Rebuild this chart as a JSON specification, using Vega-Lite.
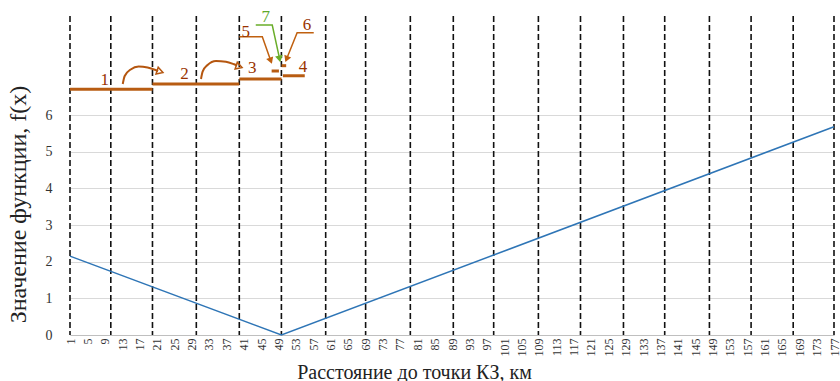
{
  "$schema": "https://vega.github.io/schema/vega-lite/v6.json",
  "width": 764,
  "height": 319,
  "autosize": {"type": "none"},
  "padding": {"left": 70, "top": 16, "right": 6, "bottom": 46},
  "background": "white",
  "config": {
    "view": {"stroke": null},
    "font": "Liberation Serif, DejaVu Serif, serif",
    "axis": {"labelFont": "Liberation Serif, DejaVu Serif, serif", "titleFont": "Liberation Serif, DejaVu Serif, serif"},
    "text": {"font": "Liberation Serif, DejaVu Serif, serif"}
  },
  "datasets": {
    "fx": [
      {"x": 1, "y": 2.15},
      {"x": 49.7, "y": 0},
      {"x": 177, "y": 5.68}
    ],
    "dashes": [
      {"x": 1}, {"x": 10.4}, {"x": 20}, {"x": 30.1}, {"x": 40}, {"x": 49.7}, {"x": 59.9}, {"x": 69.1}, {"x": 79.4}, {"x": 89.3},
      {"x": 98.6}, {"x": 108.9}, {"x": 118.6}, {"x": 128.5}, {"x": 138}, {"x": 148.3}, {"x": 157.9}, {"x": 167.6}, {"x": 177}
    ],
    "steps": [
      {"seg": "1", "x": 1, "x2": 20, "y": 6.70},
      {"seg": "2", "x": 20, "x2": 40, "y": 6.845},
      {"seg": "3", "x": 40, "x2": 49.74, "y": 6.98},
      {"seg": "4", "x": 50.04, "x2": 55.08, "y": 7.07},
      {"seg": "5", "x": 47.45, "x2": 49.13, "y": 7.20},
      {"seg": "6", "x": 49.74, "x2": 50.8, "y": 7.345}
    ],
    "labels": [
      {"t": "1", "x": 9.02, "y": 6.955},
      {"t": "2", "x": 27.35, "y": 7.12},
      {"t": "3", "x": 43.0, "y": 7.27},
      {"t": "4", "x": 54.7, "y": 7.32},
      {"t": "5", "x": 41.5, "y": 8.27},
      {"t": "6", "x": 55.6, "y": 8.45}
    ],
    "label7": [
      {"t": "7", "x": 46.1, "y": 8.68}
    ],
    "leaders": [
      {"path": "5", "i": 0, "x": 40.0, "y": 8.135},
      {"path": "5", "i": 1, "x": 45.3, "y": 8.135},
      {"path": "5", "i": 2, "x": 47.25, "y": 7.478},
      {"path": "6", "i": 0, "x": 57.15, "y": 8.245},
      {"path": "6", "i": 1, "x": 53.32, "y": 8.245},
      {"path": "6", "i": 2, "x": 50.89, "y": 7.525}
    ],
    "leader7": [
      {"i": 0, "x": 43.79, "y": 8.455},
      {"i": 1, "x": 47.59, "y": 8.455},
      {"i": 2, "x": 49.29, "y": 7.53}
    ],
    "arcs": [
      {"path": "a", "x": 13.15, "y": 6.845},
      {"path": "a", "x": 13.6, "y": 7.064},
      {"path": "a", "x": 14.98, "y": 7.241},
      {"path": "a", "x": 16.81, "y": 7.323},
      {"path": "a", "x": 18.88, "y": 7.295},
      {"path": "a", "x": 20.71, "y": 7.227},
      {"path": "a", "x": 21.3, "y": 7.2},
      {"path": "b", "x": 31.18, "y": 6.982},
      {"path": "b", "x": 31.55, "y": 7.181},
      {"path": "b", "x": 32.69, "y": 7.364},
      {"path": "b", "x": 34.62, "y": 7.473},
      {"path": "b", "x": 36.91, "y": 7.454},
      {"path": "b", "x": 38.81, "y": 7.383},
      {"path": "b", "x": 39.5, "y": 7.35}
    ],
    "arcHeads": [
      {"path": "a", "x": 21.74, "y": 7.186},
      {"path": "b", "x": 39.96, "y": 7.323}
    ],
    "head5": [{"x": 47.25, "y": 7.478}],
    "head6": [{"x": 50.89, "y": 7.525}],
    "head7": [{"x": 49.29, "y": 7.53}]
  },
  "encoding": {
    "x": {
      "field": "x",
      "type": "quantitative",
      "scale": {"domain": [1, 177], "nice": false, "zero": false},
      "axis": {
        "values": [1, 5, 9, 13, 17, 21, 25, 29, 33, 37, 41, 45, 49, 53, 57, 61, 65, 69, 73, 77, 81, 85, 89, 93, 97, 101, 105, 109, 113, 117, 121, 125, 129, 133, 137, 141, 145, 149, 153, 157, 161, 165, 169, 173, 177],
        "labelAngle": 270,
        "labelFontSize": 12,
        "labelColor": "#333333",
        "labelPadding": 3,
        "labelFlush": false,
        "labelOverlap": false,
        "ticks": false,
        "grid": false,
        "domain": true,
        "domainColor": "#bfbfbf",
        "domainWidth": 1,
        "title": "Расстояние до точки КЗ, км",
        "titleFontSize": 20,
        "titleFontWeight": "normal",
        "titleColor": "#222222",
        "titleX": 344,
        "titleY": 43,
        "titleAlign": "center",
        "titleBaseline": "alphabetic"
      }
    }
  },
  "layer": [
    {
      "data": {"name": "dashes"},
      "mark": {"type": "rule", "color": "#111111", "strokeWidth": 1.6, "strokeDash": [6, 3]},
      "encoding": {}
    },
    {
      "data": {"name": "fx"},
      "mark": {"type": "line", "color": "#2e75b6", "strokeWidth": 1.5},
      "encoding": {
        "y": {
          "field": "y",
          "type": "quantitative",
          "scale": {"domain": [0, 8.7], "nice": false, "zero": true},
          "title": "Значение функции, f(x)",
          "axis": {
            "values": [0, 1, 2, 3, 4, 5, 6],
            "grid": true,
            "gridColor": "#d9d9d9",
            "gridWidth": 1,
            "domain": false,
            "ticks": false,
            "labelFontSize": 14,
            "labelColor": "#333333",
            "labelPadding": 18,
            "titleFontSize": 24,
            "titleFontWeight": "normal",
            "titleColor": "#222222",
            "titleAngle": 270,
            "titleX": -52,
            "titleY": 188,
            "titleAlign": "center",
            "titleBaseline": "middle"
          }
        }
      }
    },
    {
      "data": {"name": "steps"},
      "mark": {"type": "rule", "color": "#b85c12", "strokeWidth": 3},
      "encoding": {"x2": {"field": "x2"}, "y": {"field": "y", "type": "quantitative", "title": "Значение функции, f(x)"}}
    },
    {
      "data": {"name": "arcs"},
      "mark": {"type": "line", "color": "#b5560f", "strokeWidth": 2, "interpolate": "monotone"},
      "encoding": {"detail": {"field": "path"}, "y": {"field": "y", "type": "quantitative", "title": "Значение функции, f(x)"}}
    },
    {
      "data": {"name": "arcHeads"},
      "mark": {"type": "point", "shape": "triangle-right", "filled": false, "stroke": "#b5560f", "strokeWidth": 1.5, "size": 50, "angle": 18, "opacity": 1},
      "encoding": {"y": {"field": "y", "type": "quantitative", "title": "Значение функции, f(x)"}}
    },
    {
      "data": {"name": "leaders"},
      "mark": {"type": "line", "color": "#c0600f", "strokeWidth": 1.5},
      "encoding": {"detail": {"field": "path"}, "order": {"field": "i"}, "y": {"field": "y", "type": "quantitative", "title": "Значение функции, f(x)"}}
    },
    {
      "data": {"name": "leader7"},
      "mark": {"type": "line", "color": "#6aad2a", "strokeWidth": 1.5},
      "encoding": {"order": {"field": "i"}, "y": {"field": "y", "type": "quantitative", "title": "Значение функции, f(x)"}}
    },
    {
      "data": {"name": "head5"},
      "mark": {"type": "point", "shape": "triangle-up", "filled": true, "color": "#c0600f", "size": 55, "angle": 160, "opacity": 1},
      "encoding": {"y": {"field": "y", "type": "quantitative", "title": "Значение функции, f(x)"}}
    },
    {
      "data": {"name": "head6"},
      "mark": {"type": "point", "shape": "triangle-up", "filled": true, "color": "#c0600f", "size": 55, "angle": 202, "opacity": 1},
      "encoding": {"y": {"field": "y", "type": "quantitative", "title": "Значение функции, f(x)"}}
    },
    {
      "data": {"name": "head7"},
      "mark": {"type": "point", "shape": "triangle-up", "filled": true, "color": "#6aad2a", "size": 60, "angle": 168, "opacity": 1},
      "encoding": {"y": {"field": "y", "type": "quantitative", "title": "Значение функции, f(x)"}}
    },
    {
      "data": {"name": "labels"},
      "mark": {"type": "text", "color": "#993300", "fontSize": 17, "align": "center", "baseline": "middle"},
      "encoding": {"text": {"field": "t"}, "y": {"field": "y", "type": "quantitative", "title": "Значение функции, f(x)"}}
    },
    {
      "data": {"name": "label7"},
      "mark": {"type": "text", "color": "#5fa82a", "fontSize": 17, "align": "center", "baseline": "middle"},
      "encoding": {"text": {"field": "t"}, "y": {"field": "y", "type": "quantitative", "title": "Значение функции, f(x)"}}
    }
  ]
}
